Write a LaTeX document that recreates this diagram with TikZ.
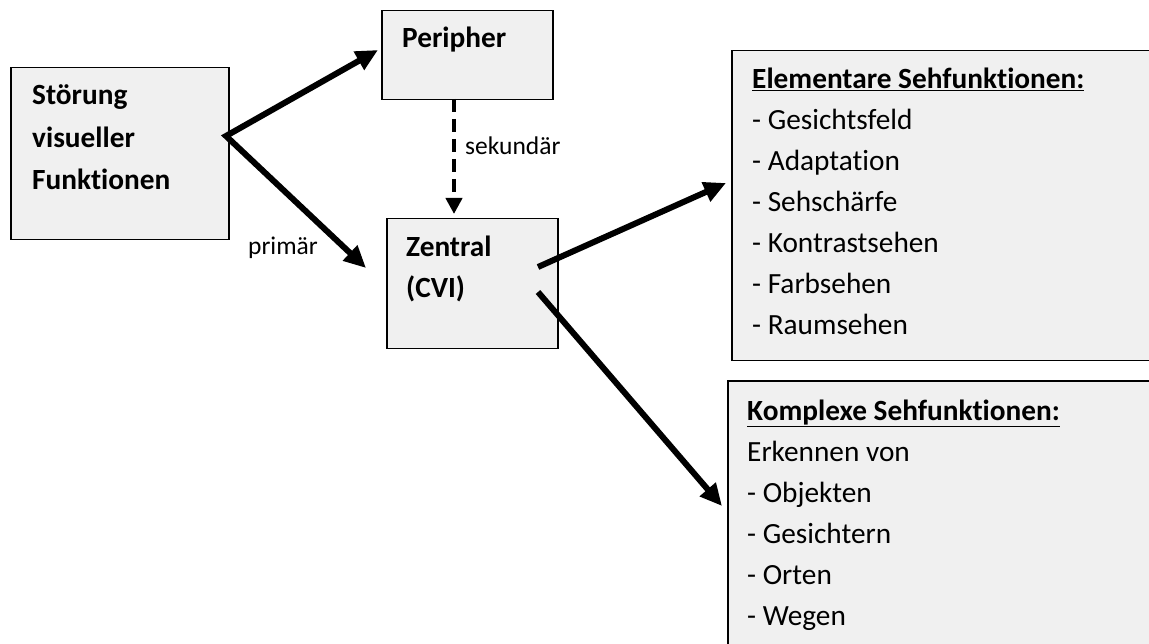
\documentclass[tikz,border=0pt]{standalone}
\usepackage{fontspec}
\setmainfont[Ligatures={NoCommon}]{Carlito}
\usetikzlibrary{arrows.meta}
\definecolor{boxgray}{HTML}{F0F0F0}
\tikzset{
  box/.style={draw=black, line width=1.5pt, fill=boxgray, inner sep=0pt, anchor=north west},
  txt/.style={anchor=base west, inner sep=0pt, font=\fontsize{29.3}{34}\selectfont},
  btxt/.style={txt, font=\fontsize{29.3}{34}\selectfont\bfseries},
  small/.style={anchor=base west, inner sep=0pt, font=\fontsize{25.5}{28}\selectfont},
  bigarrow/.style={line width=6pt, line join=miter, -{Triangle[length=22pt,width=20pt]}},
  dasharrow/.style={line width=4pt, dash pattern=on 13pt off 7pt, -{Triangle[length=16pt,width=16pt]}},
}
\begin{document}
\begin{tikzpicture}[x=1pt,y=-1pt]
\useasboundingbox (0,0) rectangle (1149,644);
\clip (0,0) rectangle (1149,644);
% boxes
\node[box, minimum width=218pt, minimum height=172pt] (sv) at (10,67) {};
\node[box, minimum width=171pt, minimum height=89pt] (per) at (381,10) {};
\node[box, minimum width=171pt, minimum height=130pt] (zen) at (386,218) {};
\node[box, minimum width=440pt, minimum height=310pt] (ele) at (731,50) {};
\node[box, minimum width=440pt, minimum height=290pt] (kom) at (727,380) {};
% texts
\node[btxt] (sv1) at (32,105) {Störung};
\node[btxt] (sv2) at (32,148) {visueller};
\node[btxt] (sv3) at (32,190) {Funktionen};
\node[btxt] (per1) at (402,48) {Peripher};
\node[btxt] (zen1) at (406,257) {Zentral};
\node[btxt] (zen2) at (406,298) {(CVI)};
\node[btxt] (ele0) at (752,89) {\underline{Elementare Sehfunktionen:}};
\node[txt] (ele1) at (752,130) {- Gesichtsfeld};
\node[txt] (ele2) at (752,171) {- Adaptation};
\node[txt] (ele3) at (752,212) {- Sehschärfe};
\node[txt] (ele4) at (752,253) {- Kontrastsehen};
\node[txt] (ele5) at (752,294) {- Farbsehen};
\node[txt] (ele6) at (752,335) {- Raumsehen};
\node[btxt] (kom0) at (747,420) {\underline{Komplexe Sehfunktionen:}};
\node[txt] (kom1) at (747,461) {Erkennen von};
\node[txt] (kom2) at (747,502) {- Objekten};
\node[txt] (kom3) at (747,543) {- Gesichtern};
\node[txt] (kom4) at (747,584) {- Orten};
\node[txt] (kom5) at (747,625) {- Wegen};
\node[small] (lprim) at (248,255) {primär};
\node[small] (lsek) at (465,155) {sekundär};
% connector end points
\coordinate (svout) at (226,136);
\coordinate (perin) at (378,50);
\coordinate (zenin) at (366,268);
\coordinate (perout) at (454,99);
\coordinate (zentop) at (454,214);
\coordinate (zout1) at (538,267);
\coordinate (zout2) at (538,292);
\coordinate (elein) at (726,183);
\coordinate (komin) at (722,506);
% connectors
\draw[line width=6pt, line join=miter, {Triangle[length=22pt,width=20pt]}-{Triangle[length=22pt,width=20pt]}] (perin) -- (svout) -- (zenin);
\draw[dasharrow] (perout) -- (zentop);
\draw[bigarrow] (zout1) -- (elein);
\draw[bigarrow] (zout2) -- (komin);
\end{tikzpicture}
\end{document}
